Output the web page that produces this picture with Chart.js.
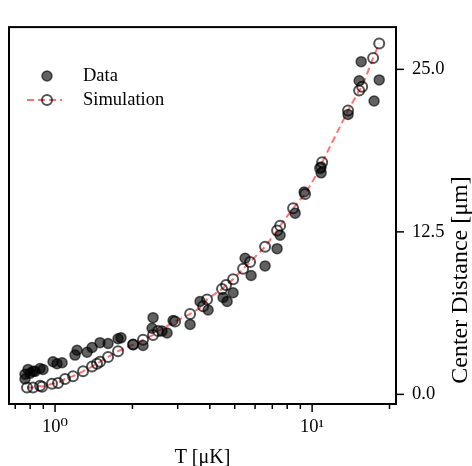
<!DOCTYPE html>
<html>
<head>
<meta charset="utf-8">
<script src="https://cdn.jsdelivr.net/npm/chart.js@4.4.1/dist/chart.umd.min.js"></script>
<style>
  html, body { margin: 0; padding: 0; background: #fff; }
</style>
</head>
<body>
<canvas id="chart" width="472" height="466"></canvas>
<script>
// measured points (T in uK, center distance in um)
const tempData = [
  0.764, 0.764, 0.785, 0.799, 0.821, 0.836, 0.874, 0.898, 0.982, 1.018,
  1.065, 1.196, 1.218, 1.332, 1.393, 1.496, 1.608, 1.758, 1.806, 2.012,
  2.199, 2.384, 2.406, 2.608, 2.728, 2.878, 3.352, 3.666, 3.939, 4.505,
  4.670, 4.928, 5.486, 5.791, 6.563, 7.308, 7.508, 8.590, 9.31, 10.84,
  10.84, 13.80, 15.24, 15.52, 17.42, 18.24
];
const distData = [
  1.55, 1.18, 1.92, 1.62, 1.77, 1.77, 1.99, 1.92, 2.51, 2.36,
  2.43, 3.02, 3.39, 3.24, 3.61, 3.98, 3.91, 4.28, 4.35, 3.83,
  3.76, 5.09, 5.90, 4.87, 4.72, 5.68, 5.38, 7.15, 6.49, 7.45,
  7.15, 7.82, 10.47, 9.14, 9.88, 11.21, 12.24, 13.94, 15.56, 17.48,
  17.04, 21.53, 24.12, 25.59, 22.57, 24.19
];

// simulation curve
const tempSim = [
  0.778, 0.821, 0.874, 0.890, 0.973, 1.027, 1.094, 1.175, 1.285, 1.393,
  1.456, 1.496, 1.608, 1.758, 2.012, 2.199, 2.406, 2.516, 2.930, 3.352,
  3.767, 3.902, 4.463, 4.627, 4.928, 5.389, 5.736, 6.563, 7.308, 7.508,
  8.435, 9.39, 10.74, 10.94, 13.80, 15.24, 15.66, 17.27, 18.24
];
const distSim = [
  0.52, 0.52, 0.66, 0.59, 0.81, 0.88, 1.18, 1.40, 1.77, 2.14,
  2.36, 2.51, 2.88, 3.32, 3.83, 4.20, 4.57, 4.87, 5.60, 6.19,
  6.78, 7.30, 8.11, 8.41, 8.85, 9.66, 10.18, 11.36, 12.61, 12.98,
  14.31, 15.41, 17.40, 17.85, 21.83, 23.38, 23.67, 25.88, 26.99
];

// axis ticks
const xTicks = [0.7, 0.8, 0.9, 1, 2, 3, 4, 5, 6, 7, 8, 9, 10, 20];
const xMajor = [1, 10];
const xTickLabels = { 1: "10\u2070", 10: "10\u00b9" };
const yTicks = [0, 12.5, 25];

const serif = "'Liberation Serif', 'DejaVu Serif', serif";
const dataColor = "rgba(0,0,0,0.62)";
const ringColor = "rgba(0,0,0,0.68)";
const simColor = "rgba(255,0,0,0.55)";

/** Frame, tick marks, axis titles and inline legend */
const decorations = {
  id: "decorations",
  afterDraw(chart) {
    const { ctx, chartArea: a, scales } = chart;
    ctx.save();

    // frame
    ctx.strokeStyle = "#000";
    ctx.lineWidth = 2;
    ctx.strokeRect(a.left, a.top, a.right - a.left, a.bottom - a.top);

    // x ticks
    ctx.lineWidth = 1.5;
    xTicks.forEach((v) => {
      const px = scales.x.getPixelForValue(v);
      const len = xMajor.includes(v) ? 8 : 5;
      ctx.beginPath();
      ctx.moveTo(px, a.bottom);
      ctx.lineTo(px, a.bottom + len);
      ctx.stroke();
    });

    // y ticks (right side)
    yTicks.forEach((v) => {
      const py = scales.y.getPixelForValue(v);
      ctx.beginPath();
      ctx.moveTo(a.right, py);
      ctx.lineTo(a.right + 8, py);
      ctx.stroke();
    });

    // axis titles
    ctx.fillStyle = "#000";
    ctx.font = "20px " + serif;
    ctx.textAlign = "center";
    ctx.textBaseline = "alphabetic";
    ctx.fillText("T [\u03bcK]", (a.left + a.right) / 2, 463);

    ctx.save();
    ctx.translate(461, 280);
    ctx.rotate(-Math.PI / 2);
    ctx.textBaseline = "middle";
    ctx.font = "24px " + serif;
    ctx.fillText("Center Distance [\u03bcm]", 0, 0);
    ctx.restore();

    // legend
    ctx.font = "18.5px " + serif;
    ctx.textAlign = "left";
    ctx.textBaseline = "middle";

    ctx.beginPath();
    ctx.arc(47, 76, 5, 0, Math.PI * 2);
    ctx.fillStyle = dataColor;
    ctx.fill();
    ctx.lineWidth = 1.5;
    ctx.strokeStyle = dataColor;
    ctx.stroke();

    ctx.setLineDash([7, 4]);
    ctx.strokeStyle = simColor;
    ctx.lineWidth = 2;
    ctx.beginPath();
    ctx.moveTo(27, 100);
    ctx.lineTo(62, 100);
    ctx.stroke();
    ctx.setLineDash([]);
    ctx.beginPath();
    ctx.arc(47, 100, 5, 0, Math.PI * 2);
    ctx.strokeStyle = ringColor;
    ctx.stroke();

    ctx.fillStyle = "#000";
    ctx.fillText("Data", 83, 76);
    ctx.fillText("Simulation", 83, 100);

    ctx.restore();
  },
};

const ctx = document.getElementById("chart").getContext("2d");

new Chart(ctx, {
  type: "scatter",
  data: {
    datasets: [
      {
        label: "Data",
        data: tempData.map((t, i) => ({ x: t, y: distData[i] })),
        showLine: false,
        pointRadius: 5,
        pointHoverRadius: 5,
        backgroundColor: dataColor,
        borderColor: dataColor,
        borderWidth: 1.5,
      },
      {
        label: "Simulation",
        data: tempSim.map((t, i) => ({ x: t, y: distSim[i] })),
        showLine: true,
        borderColor: simColor,
        borderWidth: 2,
        borderDash: [7, 4],
        pointRadius: 5,
        pointHoverRadius: 5,
        pointBackgroundColor: "rgba(0,0,0,0)",
        pointBorderColor: ringColor,
        pointBorderWidth: 2,
      },
    ],
  },
  options: {
    responsive: false,
    animation: false,
    devicePixelRatio: 1,
    layout: { padding: { left: 9, top: 11, right: 0, bottom: 0 } },
    plugins: {
      legend: { display: false },
      tooltip: { enabled: false },
    },
    scales: {
      x: {
        type: "logarithmic",
        min: 0.662,
        max: 21.2,
        grid: { display: false, drawTicks: false },
        border: { display: false },
        afterBuildTicks: (scale) => {
          scale.ticks = xTicks.map((v) => ({ value: v }));
        },
        afterFit: (scale) => {
          scale.height = 62;
        },
        ticks: {
          autoSkip: false,
          maxRotation: 0,
          padding: 12,
          color: "#000",
          font: { family: serif, size: 18.5 },
          callback: (v) => xTickLabels[v] || "",
        },
      },
      y: {
        type: "linear",
        position: "right",
        min: -0.74,
        max: 28.25,
        grid: { display: false, drawTicks: false },
        border: { display: false },
        afterBuildTicks: (scale) => {
          scale.ticks = yTicks.map((v) => ({ value: v }));
        },
        afterFit: (scale) => {
          scale.width = 76;
        },
        ticks: {
          padding: 16,
          color: "#000",
          font: { family: serif, size: 18.5 },
          callback: (v) => v.toFixed(1),
        },
      },
    },
  },
  plugins: [decorations],
});
</script>
</body>
</html>
